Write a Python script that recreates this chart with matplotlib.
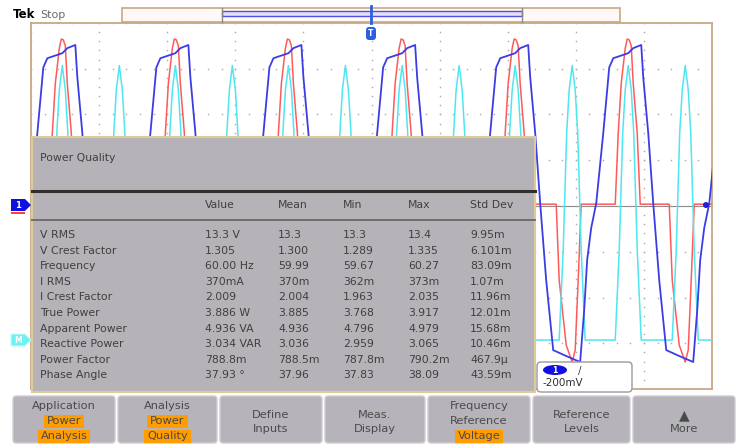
import matplotlib
matplotlib.use("Agg")
import matplotlib.pyplot as plt
from matplotlib.patches import Rectangle, FancyBboxPatch, Polygon, Ellipse, Circle

plt.rcParams['font.family'] = ['DejaVu Sans']

# ---- scope traces: 10 ms/div, 10 div across, 8 div high ----
peak_ms = [-12.0, 4.6, 21.2, 37.8, 54.5, 71.1, 87.7, 104.3]   # ch2 current peaks

# ch1 voltage, one line cycle around each current peak (ms offset, div)
v_dt = [-4.70, -3.67, -2.79, -2.20, 0.00, 0.73, 1.91, 2.20, 2.94, 3.67,
        4.55, 5.58, 7.20, 9.54, 10.13, 10.57, 11.16]
v_lvl = [0.02, 1.55, 2.99, 3.19, 3.30, 3.41, 3.48, 2.78, 1.55, 0.02,
         -1.66, -3.19, -3.30, -3.45, -2.32, -1.22, -0.52]

# ch2 current
i_dt = [-1.91, -1.47, -1.03, -0.44, -0.15, 0.15, 0.44, 0.73, 1.32, 1.76,
        6.02, 6.46, 7.49, 8.37, 8.81, 9.25, 9.69]
i_lvl = [0.0, 1.55, 2.64, 3.41, 3.61, 3.59, 3.46, 2.64, 1.55, 0.0,
         0.0, -1.66, -3.08, -3.45, -3.19, -1.66, 0.0]

# math (power) pulse, twice per cycle
p_dt = [-1.91, -1.32, -0.81, -0.44, 0.0, 0.44, 0.81, 1.32, 1.91]
p_lvl = [0.0, 1.97, 4.53, 5.47, 6.0, 5.47, 4.53, 1.97, 0.0]
p_half_ms = 8.37

ch1_offset = 0.04
ch2_offset = 0.04
math_offset = -2.93

# ---- measurement table ----
cols = ["Value", "Mean", "Min", "Max", "Std Dev"]
rows = ["V RMS", "V Crest Factor", "Frequency", "I RMS", "I Crest Factor",
        "True Power", "Apparent Power", "Reactive Power", "Power Factor", "Phase Angle"]
value = ["13.3 V", "1.305", "60.00 Hz", "370mA", "2.009", "3.886 W",
         "4.936 VA", "3.034 VAR", "788.8m", "37.93 °"]
mean = ["13.3", "1.300", "59.99", "370m", "2.004", "3.885", "4.936", "3.036", "788.5m", "37.96"]
vmin = ["13.3", "1.289", "59.67", "362m", "1.963", "3.768", "4.796", "2.959", "787.8m", "37.83"]
vmax = ["13.4", "1.335", "60.27", "373m", "2.035", "3.917", "4.979", "3.065", "790.2m", "38.09"]
std = ["9.95m", "6.101m", "83.09m", "1.07m", "11.96m", "12.01m", "15.68m", "10.46m", "467.9µ", "43.59m"]

# ---- bottom menu ----
buttons = [["Application", "Power", "Analysis"],
           ["Analysis", "Power", "Quality"],
           ["Define", "Inputs"],
           ["Meas.", "Display"],
           ["Frequency", "Reference", "Voltage"],
           ["Reference", "Levels"],
           ["▲", "More"]]
highlight = [[1, 2], [1, 2], [], [], [2], [], []]


def tile(dt, lvl, centers):
    xs, ys = [], []
    for c in centers:
        xs += [c + d for d in dt]
        ys += lvl
    return xs, ys


W, H = 737, 444
fig = plt.figure(figsize=(W / 100, H / 100), dpi=100)
fig.patch.set_facecolor("white")

# scope graticule axes (pixels 31..712 x, 23..389 y)
gl, gt, gr, gb = 31, 23, 712, 389
ax = fig.add_axes([gl / W, 1 - gb / H, (gr - gl) / W, (gb - gt) / H])
ax.set_xlim(0, 100)
ax.set_ylim(-4, 4)
ax.set_xticks([])
ax.set_yticks([])
for s in ax.spines.values():
    s.set_color("#c8a883")
    s.set_linewidth(1.3)

# dotted graticule
dot = dict(ls="none", marker="s", ms=1.0, color="#a9a9a9", mew=0)
for k in range(0, 11):
    ax.plot([k * 10] * 41, [-4 + 0.2 * j for j in range(41)], **dot)
for k in range(-4, 5):
    ax.plot([2 * j for j in range(51)], [k] * 51, **dot)
ax.axhline(0, color="#8a8a8a", lw=0.8, zorder=1)

# traces
px, py = tile(p_dt, p_lvl, sorted(peak_ms + [c + p_half_ms for c in peak_ms]))
ix, iy = tile(i_dt, i_lvl, peak_ms)
vx, vy = tile(v_dt, v_lvl, peak_ms)
ax.plot(ix, [y + ch2_offset for y in iy], color="#ff5a5a", lw=1.1, zorder=3)
ax.plot(px, [y + math_offset for y in py], color="#4fe6f0", lw=1.1, zorder=4)
ax.plot(vx, [y + ch1_offset for y in vy], color="#3c3ce6", lw=1.3, zorder=5)

# overlay in pixel coordinates
ov = fig.add_axes([0, 0, 1, 1])
ov.set_xlim(0, W)
ov.set_ylim(H, 0)
ov.axis("off")
ov.patch.set_alpha(0)
ov.set_zorder(2)

txt = "#3f3f3f"
fs = 7.8

# header
ov.text(13, 15, "Tek", fontsize=8.5, fontweight="bold", color="black", va="center")
ov.text(40, 15, "Stop", fontsize=8, color="#6a6a6a", va="center")
ov.add_patch(Rectangle((122, 8), 498, 14, facecolor="#fff8f8", edgecolor="#c8a883", lw=1.2))
ov.add_patch(Rectangle((222, 11), 300, 5, facecolor="#e4e0f4", edgecolor="#5050e0", lw=1.0))
ov.plot([222, 222], [8, 22], color="#8a8a8a", lw=1)
ov.plot([522, 522], [8, 22], color="#8a8a8a", lw=1)
ov.plot([371, 371], [6, 23], color="#2d5fe0", lw=2)
ov.add_patch(FancyBboxPatch((366, 27), 10, 13, boxstyle="round,pad=0,rounding_size=3",
                            facecolor="#2d5fe0", edgecolor="none"))
ov.text(371, 33.5, "T", fontsize=5.5, color="white", ha="center", va="center", fontweight="bold")

# channel markers
ov.add_patch(Polygon([(11, 199), (25, 199), (31, 205), (25, 211), (11, 211)],
                     facecolor="#1010e0", edgecolor="none"))
ov.text(18, 205, "1", fontsize=6, color="white", ha="center", va="center", fontweight="bold")
ov.add_patch(Rectangle((11, 212), 14, 2, facecolor="#ff4040", edgecolor="none"))
ov.add_patch(Polygon([(11, 334), (25, 334), (31, 340), (25, 346), (11, 346)],
                     facecolor="#70f0f0", edgecolor="#c0ffff", lw=0.8))
ov.text(18, 340, "M", fontsize=5.5, color="white", ha="center", va="center", fontweight="bold")
ov.add_patch(Circle((706, 205), 3, facecolor="#2020e0", edgecolor="none"))

# measurement panel
ov.add_patch(Rectangle((32, 137), 503, 255, facecolor="#b5b3b8", edgecolor="#dccb9b", lw=1.5))
ov.plot([32, 535], [191, 191], color="#2f2f2b", lw=2.2)
ov.plot([32, 535], [220, 220], color="#6e6e6e", lw=1.4)
ov.text(40, 158, "Power Quality", fontsize=fs, color=txt, va="center")
col_x = [205, 278, 343, 408, 470]
for x, c in zip(col_x, cols):
    ov.text(x, 205, c, fontsize=fs, color=txt, va="center")
for r, name in enumerate(rows):
    y = 235 + r * 15.6
    ov.text(40, y, name, fontsize=fs, color=txt, va="center")
    for x, col in zip(col_x, [value, mean, vmin, vmax, std]):
        ov.text(x, y, col[r], fontsize=fs, color=txt, va="center")

# ch1 readout box
ov.add_patch(FancyBboxPatch((537, 362), 95, 30, boxstyle="round,pad=0,rounding_size=4",
                            facecolor="white", edgecolor="#9a9a9a", lw=1))
ov.add_patch(Ellipse((555, 370), 24, 10, facecolor="#1010e0", edgecolor="none"))
ov.text(555, 370, "1", fontsize=5.5, color="white", ha="center", va="center", fontweight="bold")
ov.text(580, 371, "/", fontsize=7.5, color="#404040", ha="center", va="center")
ov.text(543, 383, "-200mV", fontsize=7.5, color="#303030", va="center")

# bottom menu buttons
renderer = fig.canvas.get_renderer()
btn_x = [13, 118, 220, 325, 428, 533, 633]
btn_w = [102, 99, 102, 100, 102, 97, 102]
for b, (x0, w) in enumerate(zip(btn_x, btn_w)):
    ov.add_patch(FancyBboxPatch((x0, 396), w, 47, boxstyle="round,pad=0,rounding_size=3",
                                facecolor="#b6b4ba", edgecolor="#cfcdd2", lw=1))
    lines = buttons[b]
    cx = x0 + w / 2
    ys = [406, 421, 436] if len(lines) == 3 else [415, 429]
    for k, (s, y) in enumerate(zip(lines, ys)):
        t = ov.text(cx, y, s, fontsize=8.2 if s != "▲" else 10, color="#4a4a4a",
                    ha="center", va="center", zorder=4)
        if k in highlight[b]:
            tw = t.get_window_extent(renderer).width
            ov.add_patch(Rectangle((cx - tw / 2 - 3, y - 6.5), tw + 6, 13,
                                   facecolor="#ff9c00", edgecolor="none", zorder=3))

fig.savefig("out.png", dpi=100)
